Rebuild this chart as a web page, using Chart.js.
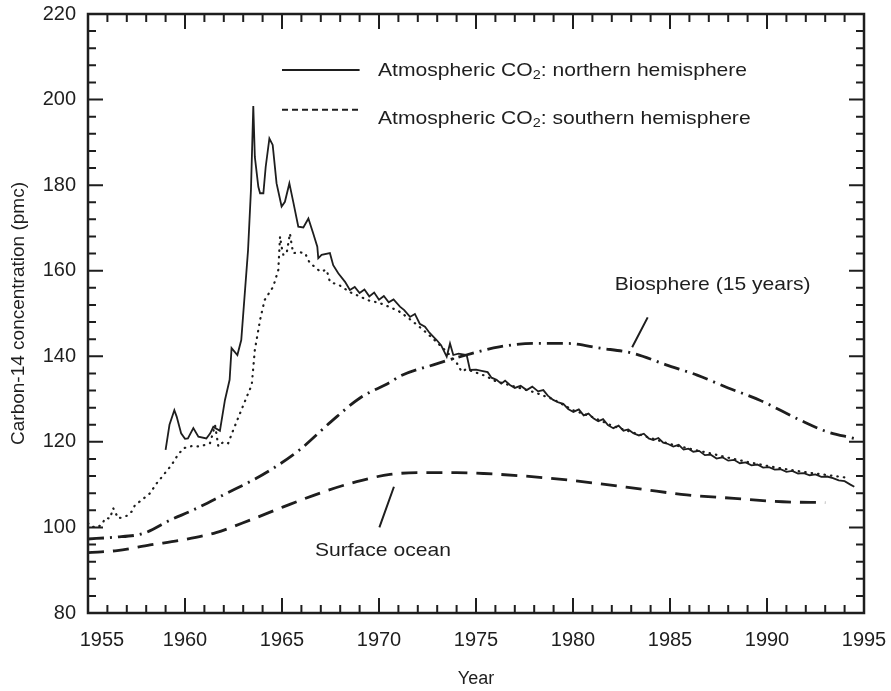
<!DOCTYPE html>
<html>
<head>
<meta charset="utf-8">
<script src="https://cdn.jsdelivr.net/npm/chart.js@4.4.1/dist/chart.umd.min.js"></script>
<style>
  html, body { margin: 0; padding: 0; background: #fff; }
</style>
</head>
<body>
<canvas id="chart" width="891" height="691"></canvas>
<script>
// atmospheric CO2, northern hemisphere (solid)
const northYears = [1959.0, 1959.2, 1959.45, 1959.57, 1959.8, 1960.0, 1960.15, 1960.43, 1960.69, 1961.1, 1961.3, 1961.46, 1961.8,
  1962.06, 1962.3, 1962.4, 1962.7, 1962.9, 1963.25, 1963.4, 1963.52, 1963.6, 1963.78, 1963.87, 1964.04, 1964.16, 1964.35,
  1964.52, 1964.72, 1964.98, 1965.15, 1965.38, 1965.58, 1965.84, 1966.1, 1966.36, 1966.61, 1966.82, 1966.87, 1967.04,
  1967.47, 1967.64, 1967.9, 1968.25, 1968.5, 1968.75, 1969.0, 1969.25, 1969.5, 1969.75, 1970.0, 1970.25, 1970.5, 1970.75,
  1971.08, 1971.3, 1971.6, 1971.85, 1972.1, 1972.37, 1972.6, 1972.97, 1973.2, 1973.49, 1973.66, 1973.83, 1974.1, 1974.52,
  1974.69, 1975.0, 1975.29, 1975.6, 1975.8, 1976.06, 1976.3, 1976.5, 1976.75, 1977.0, 1977.3, 1977.61, 1977.9, 1978.2,
  1978.47, 1978.7, 1978.98, 1979.25, 1979.5, 1979.75, 1980.02, 1980.3, 1980.55, 1980.8, 1981.05, 1981.3, 1981.55, 1981.8,
  1982.08, 1982.35, 1982.6, 1982.85, 1983.11, 1983.4, 1983.65, 1983.9, 1984.14, 1984.4, 1984.65, 1984.9, 1985.17, 1985.45,
  1985.7, 1985.95, 1986.2, 1986.5, 1986.8, 1987.1, 1987.4, 1987.7, 1988.0, 1988.3, 1988.6, 1988.9, 1989.2, 1989.5, 1989.8,
  1990.1, 1990.4, 1990.7, 1991.0, 1991.3, 1991.6, 1991.9, 1992.2, 1992.5, 1992.8, 1993.1, 1993.4, 1993.7, 1994.0, 1994.3, 1994.5];
const northVals = [118.1, 124.0, 127.4, 125.9, 122.0, 120.7, 120.8, 123.2, 121.2, 120.8, 122.0, 123.5, 122.6,
  129.8, 134.5, 141.9, 140.3, 143.8, 164.8, 178.9, 198.5, 186.6, 179.6, 178.1, 178.1, 184.3, 190.9,
  189.4, 180.4, 175.0, 176.1, 180.4, 176.1, 170.3, 170.1, 172.2, 168.7, 165.6, 162.9, 163.7,
  164.1, 161.3, 159.4, 157.4, 155.5, 156.2, 154.8, 155.6, 154.0, 154.9, 153.2, 154.1, 152.6, 153.3,
  151.6, 150.8, 149.2, 149.9, 147.6, 146.9, 145.5, 143.8, 142.6, 139.9, 143.0, 140.3, 140.6, 140.3,
  136.8, 136.9, 136.6, 136.3, 135.0, 134.5, 133.6, 134.3, 133.3, 132.6, 133.1, 132.1, 132.9, 131.8,
  132.1, 130.8, 129.8, 129.2, 128.9, 127.7, 127.0, 127.6, 126.2, 126.6, 125.5, 124.8, 125.3, 123.9,
  123.2, 123.8, 122.6, 122.9, 122.0, 121.5, 121.9, 120.8, 120.4, 120.9, 119.8, 119.5, 118.9, 119.3,
  118.2, 118.4, 117.7, 117.9, 116.9, 117.0, 116.1, 116.4, 115.6, 115.8, 115.0, 115.2, 114.5, 114.7, 114.0,
  114.1, 113.5, 113.6, 113.0, 113.2, 112.6, 112.7, 112.2, 112.4, 111.8, 111.9, 111.5, 111.0, 110.8, 110.0, 109.5];

// atmospheric CO2, southern hemisphere (dotted)
const southYears = [1955.0, 1955.2, 1955.45, 1955.7, 1955.9, 1956.13, 1956.3, 1956.56, 1956.99, 1957.25, 1957.42, 1957.77,
  1958.2, 1958.54, 1958.88, 1959.31, 1959.57, 1959.91, 1960.34, 1960.77, 1961.29, 1961.55, 1961.72, 1961.98, 1962.23,
  1962.32, 1962.49, 1962.84, 1963.18, 1963.44, 1963.6, 1963.87, 1964.1, 1964.55, 1964.81, 1964.9, 1964.98, 1965.07,
  1965.24, 1965.41, 1965.5, 1965.58, 1965.93, 1966.19, 1966.44, 1966.7, 1966.96, 1967.3, 1967.47, 1968.0, 1968.5,
  1969.0, 1969.5, 1970.0, 1970.5, 1971.0, 1971.5, 1972.0, 1972.5, 1973.0, 1973.5, 1974.0, 1974.26, 1974.5, 1975.0,
  1975.5, 1976.0, 1977.0, 1978.0, 1979.0, 1980.0, 1981.0, 1982.0, 1983.0, 1984.0, 1985.0, 1986.0, 1987.0, 1988.0,
  1989.0, 1990.0, 1991.0, 1992.0, 1993.0, 1994.0];
const southVals = [101.0, 100.2, 100.0, 100.6, 102.2, 102.1, 104.5, 102.1, 102.7, 103.7, 105.2, 106.4,
  108.0, 110.3, 112.2, 114.6, 116.5, 118.5, 119.0, 118.9, 119.7, 123.9, 118.9, 120.0, 119.7,
  120.8, 122.8, 126.7, 130.5, 133.3, 141.5, 148.5, 153.1, 156.3, 160.2, 168.0, 165.6, 163.7,
  164.1, 168.7, 166.0, 164.1, 164.3, 164.1, 161.7, 160.9, 159.8, 160.2, 157.4, 156.5, 155.0,
  154.0, 153.0, 152.5, 151.6, 150.6, 149.0, 147.2, 145.3, 143.2, 141.0, 138.5, 136.4, 137.0, 136.2,
  135.4, 134.2, 132.9, 131.6, 129.9, 127.4, 125.8, 123.8, 122.3, 120.9, 119.5, 118.4, 117.4, 116.3,
  115.3, 114.4, 113.6, 112.9, 112.3, 111.7];

// biosphere (15 years), dash-dot
const bioYears = [1955.0, 1956.3, 1957.85, 1959.23, 1960.43, 1962.15, 1963.52, 1964.4, 1965.9, 1967.5, 1969.0, 1970.6,
  1971.1, 1972.8, 1974.5, 1976.2, 1977.95, 1979.7, 1981.4, 1983.1, 1984.8, 1986.4, 1988.0, 1989.6, 1991.7, 1993.0, 1994.5];
const bioVals = [97.3, 97.7, 98.6, 101.7, 104.1, 108.0, 111.1, 113.4, 118.1, 124.6, 130.2, 134.0,
  135.4, 138.0, 140.3, 142.2, 143.0, 143.0, 141.9, 140.7, 138.0, 135.6, 132.6, 129.8, 125.1, 122.5, 120.8];

// surface ocean, dashed
const oceanYears = [1955.0, 1956.5, 1958.2, 1959.9, 1961.6, 1963.35, 1965.07, 1967.13, 1968.85, 1970.57, 1972.28, 1974.0,
  1975.4, 1977.5, 1979.7, 1981.4, 1983.6, 1985.86, 1988.3, 1990.8, 1993.0];
const oceanVals = [94.1, 94.6, 95.9, 97.1, 98.8, 101.7, 104.8, 108.3, 110.7, 112.4, 112.8, 112.8,
  112.6, 112.0, 111.1, 110.2, 108.9, 107.6, 106.8, 106.0, 105.8];

const pts = (xs, ys) => xs.map((x, i) => ({ x, y: ys[i] }));

const ink = "#1e1e1e";
const family = "'Liberation Sans', Arial, Helvetica, sans-serif";

// text drawn a little wider than Arial, like the original lettering
function wideText(ctx, str, px, py, align) {
  ctx.save();
  const w = ctx.measureText(str).width * 1.11;
  const x0 = align === "center" ? px - w / 2 : px;
  ctx.translate(x0, py);
  ctx.scale(1.11, 1);
  ctx.textAlign = "left";
  ctx.fillText(str, 0, 0);
  ctx.restore();
  return w;
}

function legendLine(ctx, x, y, val, dash) {
  ctx.save();
  ctx.setLineDash(dash);
  ctx.lineWidth = 2;
  ctx.beginPath();
  ctx.moveTo(x.getPixelForValue(1965.0), y.getPixelForValue(val));
  ctx.lineTo(x.getPixelForValue(1969.0), y.getPixelForValue(val));
  ctx.stroke();
  ctx.restore();
}

const frame = {
  id: "frame",
  afterDatasetsDraw(chart) {
    const { ctx, chartArea: a, scales: { x, y } } = chart;
    ctx.save();
    ctx.strokeStyle = ink;
    ctx.fillStyle = ink;
    ctx.lineWidth = 2.5;
    ctx.strokeRect(a.left, a.top, a.right - a.left, a.bottom - a.top);

    // inward ticks on all four sides
    ctx.lineWidth = 2;
    ctx.beginPath();
    for (let yr = 1956; yr < 1995; yr++) {
      const px = x.getPixelForValue(yr);
      const len = yr % 5 === 0 ? 15 : 8;
      ctx.moveTo(px, a.bottom); ctx.lineTo(px, a.bottom - len);
      ctx.moveTo(px, a.top); ctx.lineTo(px, a.top + len);
    }
    for (let v = 84; v < 220; v += 4) {
      const py = y.getPixelForValue(v);
      const len = v % 20 === 0 ? 15 : 8;
      ctx.moveTo(a.left, py); ctx.lineTo(a.left + len, py);
      ctx.moveTo(a.right, py); ctx.lineTo(a.right - len, py);
    }
    ctx.stroke();

    // legend
    legendLine(ctx, x, y, 206.9, []);
    legendLine(ctx, x, y, 197.6, [6, 4]);
    ctx.textBaseline = "middle";
    const rows = [[206.7, "northern hemisphere"], [195.6, "southern hemisphere"]];
    rows.forEach(([val, tail]) => {
      let px = x.getPixelForValue(1969.95);
      const py = y.getPixelForValue(val);
      ctx.font = "19px " + family;
      px += wideText(ctx, "Atmospheric CO", px, py, "left");
      ctx.font = "13px " + family;
      px += wideText(ctx, "2", px, py + 5, "left");
      ctx.font = "19px " + family;
      wideText(ctx, ": " + tail, px, py, "left");
    });

    // curve labels with leader lines
    ctx.font = "19px " + family;
    wideText(ctx, "Biosphere (15 years)", x.getPixelForValue(1987.2), y.getPixelForValue(156.6), "center");
    wideText(ctx, "Surface ocean", x.getPixelForValue(1970.2), y.getPixelForValue(94.5), "center");
    ctx.lineWidth = 2;
    ctx.beginPath();
    ctx.moveTo(x.getPixelForValue(1983.85), y.getPixelForValue(149.1));
    ctx.lineTo(x.getPixelForValue(1983.05), y.getPixelForValue(142.1));
    ctx.moveTo(x.getPixelForValue(1970.77), y.getPixelForValue(109.5));
    ctx.lineTo(x.getPixelForValue(1970.02), y.getPixelForValue(100.0));
    ctx.stroke();
    ctx.restore();
  }
};

new Chart(document.getElementById("chart"), {
  type: "line",
  data: {
    datasets: [
      {
        label: "Atmospheric CO2: northern hemisphere",
        data: pts(northYears, northVals),
        borderColor: ink,
        borderWidth: 1.8,
        tension: 0
      },
      {
        label: "Atmospheric CO2: southern hemisphere",
        data: pts(southYears, southVals),
        borderColor: ink,
        borderWidth: 2.2,
        borderDash: [0.5, 6],
        borderCapStyle: "round",
        tension: 0
      },
      {
        label: "Biosphere (15 years)",
        data: pts(bioYears, bioVals),
        borderColor: ink,
        borderWidth: 2.8,
        borderDash: [16, 6, 2, 6],
        cubicInterpolationMode: "monotone"
      },
      {
        label: "Surface ocean",
        data: pts(oceanYears, oceanVals),
        borderColor: ink,
        borderWidth: 2.8,
        borderDash: [16, 9],
        cubicInterpolationMode: "monotone"
      }
    ]
  },
  options: {
    responsive: false,
    animation: false,
    devicePixelRatio: 1,
    elements: { point: { radius: 0 } },
    layout: { padding: { left: 0, top: 14, right: 27, bottom: 0 } },
    plugins: { legend: { display: false }, tooltip: { enabled: false } },
    scales: {
      x: {
        type: "linear",
        min: 1955,
        max: 1995,
        grid: { display: false, drawTicks: false },
        border: { display: false },
        ticks: {
          stepSize: 5,
          maxRotation: 0,
          autoSkip: false,
          padding: 15,
          color: ink,
          font: { family, size: 20 },
          callback: v => (v === 1955 ? "     1955" : String(v))
        },
        title: {
          display: true,
          text: "Year",
          color: ink,
          font: { family, size: 18 },
          padding: { top: 0, bottom: 1 }
        },
        afterFit: s => { s.height = 78; s.paddingLeft = 0; s.paddingRight = 0; }
      },
      y: {
        min: 80,
        max: 220,
        grid: { display: false, drawTicks: false },
        border: { display: false },
        ticks: {
          stepSize: 20,
          padding: 12,
          color: ink,
          font: { family, size: 20 }
        },
        title: {
          display: true,
          text: "Carbon-14 concentration (pmc)",
          color: ink,
          font: { family, size: 19 },
          padding: { top: 7, bottom: 0 }
        },
        afterFit: s => { s.width = 88; s.paddingTop = 0; s.paddingBottom = 0; }
      }
    }
  },
  plugins: [frame]
});
</script>
</body>
</html>
